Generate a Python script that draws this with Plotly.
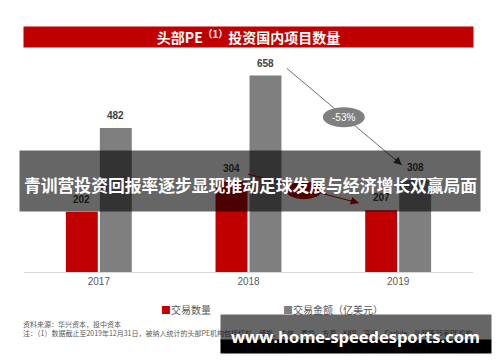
import plotly.graph_objects as go

# ---------------- data ----------------
categories = ["2017", "2018", "2019"]
deal_count = [202, 304, 207]
deal_amount = [482, 658, 308]
series_names = ["交易数量", "交易金额（亿美元）"]
title_text = "头部PE<sup>（1）</sup>投资国内项目数量"
change_label = "-53%"
overlay_text = "青训营投资回报率逐步显现推动足球发展与经济增长双赢局面"
source_lines = [
    "资料来源：华兴资本，投中资本",
    "注：（1）数据截止至2019年12月31日，被纳入统计的头部PE机构包括红杉、博裕、中信、春华、方源、KKR、高瓴、Carlyle、弘毅等35家PE机构",
]
watermark_text = "www.home-speedesports.com"

# ---------------- style ----------------
RED = "#C00000"
GRAY = "#7F7F7F"
TXT = "#595959"
LAT = "Liberation Sans, Arial, Noto Sans CJK SC, sans-serif"
CJK = "Noto Sans CJK SC, sans-serif"

W, H = 500, 362
ML, MR, MT, MB = 24, 27, 60, 90
PW = W - ML - MR
PH = H - MT - MB
YMAX = 710
BARGAP = 0.546
BARGROUPGAP = 0.06


def px(xp):
    return (xp - ML) / PW


def py(yp):
    return (H - MB - yp) / PH


def paper_note(xp, yp, text, **kw):
    d = dict(x=px(xp), y=py(yp), xref="paper", yref="paper", text=text, showarrow=False,
             xanchor="center", yanchor="middle")
    d.update(kw)
    return d


xs = list(range(len(categories)))

fig = go.Figure()
fig.add_trace(go.Bar(x=xs, y=deal_count, name=series_names[0], marker_color=RED,
                     marker_line_width=0))
fig.add_trace(go.Bar(x=xs, y=deal_amount, name=series_names[1], marker_color=GRAY,
                     marker_line_width=0))

slot = (1 - BARGAP) / 2
off = slot / 2

annotations = []
# value labels
for i in xs:
    for v, sgn in ((deal_count[i], -1), (deal_amount[i], 1)):
        annotations.append(dict(x=i + sgn * off, y=v, xref="x", yref="y", text=str(v),
                                showarrow=False, xanchor="center", yanchor="bottom", yshift=5,
                                font=dict(family=LAT, size=10, color="#404040", weight="bold")))

i18, i19 = 1, 2
shapes = [
    # gray trend arrow line
    dict(type="line", xref="x", yref="y", x0=i18 + 0.256, y0=deal_amount[i18] + 24,
         x1=i19 + 0.024, y1=deal_amount[i19] + 50, line=dict(color="#6E6E6E", width=1),
         layer="above"),
    dict(type="circle", xref="x", yref="y", x0=1.497, x1=1.777, y0=485, y1=552,
         fillcolor=GRAY, line=dict(width=0), layer="above"),
    # red trend arrow line
    dict(type="line", xref="x", yref="y", x0=i18 - 0.004, y0=deal_count[i18] + 24,
         x1=i19 - 0.263, y1=deal_count[i19] + 24, line=dict(color=RED, width=1),
         layer="above"),
    dict(type="circle", xref="x", yref="y", x0=1.25, x1=1.49, y0=244, y1=304,
         fillcolor=RED, line=dict(width=0), layer="above"),
]

# arrowheads
annotations.append(dict(x=i19 + 0.024, y=deal_amount[i19] + 50, xref="x", yref="y", text="",
                        showarrow=True, ax=-9, ay=-8, arrowhead=2, arrowsize=1.6,
                        arrowwidth=1, arrowcolor="#404040", standoff=0))
annotations.append(dict(x=i19 - 0.263, y=deal_count[i19] + 24, xref="x", yref="y", text="",
                        showarrow=True, ax=-10, ay=-3, arrowhead=2, arrowsize=1.6,
                        arrowwidth=1, arrowcolor=RED, standoff=0))
annotations.append(dict(x=1.637, y=518, xref="x", yref="y", text=change_label, showarrow=False,
                        xanchor="center", yanchor="middle",
                        font=dict(family=LAT, size=10, color="white")))

# title banner
annotations.append(paper_note(ML + PW / 2, 37, title_text, width=PW, height=20, bgcolor=RED,
                              borderpad=0,
                              font=dict(family=CJK, size=14, color="white", weight="bold")))

# legend (manual)
annotations.append(paper_note(159, 309, f"<span style='color:{RED}'>■</span>{series_names[0]}",
                              xanchor="left", font=dict(family=CJK, size=10, color=TXT)))
annotations.append(paper_note(281, 309, f"<span style='color:{GRAY}'>■</span>{series_names[1]}",
                              xanchor="left", font=dict(family=CJK, size=10, color=TXT)))

# source notes
for k, line in enumerate(source_lines):
    annotations.append(paper_note(21, 324 + 9 * k, line, xanchor="left",
                                  font=dict(family=CJK, size=7, color=TXT)))

# overlay band
annotations.append(paper_note(250, 181, overlay_text, width=460, height=60,
                              bgcolor="rgba(0,0,0,0.6)", borderpad=0,
                              font=dict(family=CJK, size=16.8, color="rgba(0,0,0,0)")))
annotations.append(paper_note(250, 185, overlay_text,
                              font=dict(family=CJK, size=16.8, color="white", weight="bold")))

# watermark
annotations.append(paper_note(356, 327.5, " ", width=270, height=25,
                              bgcolor="rgba(0,0,0,0.6)", borderpad=0))
annotations.append(paper_note(356, 346.5, " ", width=270, height=13, bgcolor="black",
                              borderpad=0))
annotations.append(paper_note(355.5, 336, watermark_text,
                              font=dict(family="Open Sans, sans-serif", size=16.5,
                                        color="white", weight="bold")))

fig.update_layout(
    width=W, height=H,
    margin=dict(l=ML, r=MR, t=MT, b=MB),
    paper_bgcolor="white", plot_bgcolor="white",
    barmode="group", bargap=BARGAP, bargroupgap=BARGROUPGAP,
    showlegend=False,
    xaxis=dict(range=[-0.5, len(categories) - 0.5], tickmode="array", tickvals=xs,
               ticktext=categories, showline=True, linecolor="#D9D9D9", linewidth=1,
               showgrid=False, zeroline=False, ticks="",
               tickfont=dict(family=LAT, size=10, color=TXT)),
    yaxis=dict(range=[0, YMAX], visible=False, showgrid=False, zeroline=False),
    shapes=shapes,
    annotations=annotations,
)

fig.write_html("out.html", config={"displayModeBar": False},
               post_script="document.body.style.margin='0';")
